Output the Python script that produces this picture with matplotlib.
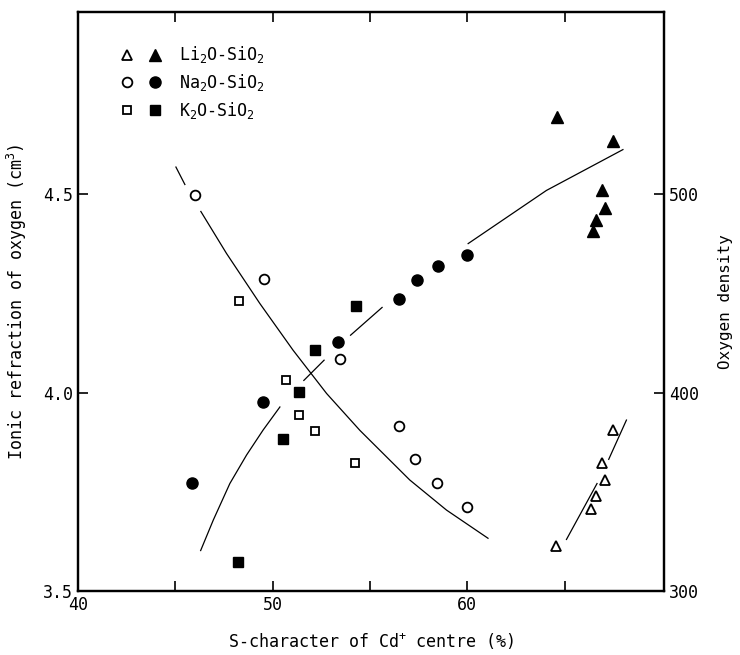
import numpy as np
import matplotlib
matplotlib.use("Agg")
import matplotlib.pyplot as plt
from matplotlib.legend_handler import HandlerTuple

plt.rcParams['font.family'] = ['DejaVu Sans Mono', 'DejaVu Sans']
plt.rcParams['mathtext.fontset'] = 'custom'
plt.rcParams['mathtext.rm'] = 'DejaVu Sans Mono'

# ---- Data: filled symbols -> ionic refraction of oxygen (cm^3), left axis
li_x_f = [64.58, 67.50, 66.94, 67.06, 66.60, 66.43]
li_y_f = [4.696, 4.634, 4.510, 4.467, 4.435, 4.407]
na_x_f = [59.98, 58.51, 57.42, 56.48, 53.35, 49.50, 45.86]
na_y_f = [4.347, 4.319, 4.284, 4.236, 4.129, 3.977, 3.773]
k_x_f = [54.29, 52.19, 51.35, 50.53, 48.22]
k_y_f = [4.219, 4.108, 4.002, 3.884, 3.572]

# ---- Data: open symbols -> oxygen density, right axis
li_x_o = [64.57, 66.37, 66.59, 67.05, 66.92, 67.48]
li_y_o = [322.8, 341.6, 348.0, 356.0, 364.4, 381.4]
na_x_o = [46.00, 49.56, 53.44, 56.51, 57.33, 58.45, 59.98]
na_y_o = [499.8, 457.2, 417.0, 383.0, 366.8, 354.6, 342.4]
k_x_o = [48.26, 50.67, 51.35, 52.19, 54.24]
k_y_o = [446.2, 406.6, 388.6, 380.6, 364.4]

# ---- Curves (NaN = gap in the drawn line)
rise_x = [46.30, 46.95, 47.80, 48.66, 49.51, 50.37, np.nan, 51.60, 52.64, np.nan,
          54.00, 55.62, np.nan, 60.04, 64.06, 67.99]
rise_y = [3.602, 3.679, 3.771, 3.843, 3.906, 3.964, np.nan, 4.031, 4.082, np.nan,
          4.145, 4.215, np.nan, 4.376, 4.510, 4.613]
fall_x = [45.03, 45.49, np.nan, 46.31, 47.63, 49.34, 51.05, 52.77, 54.48, 57.04, 58.93, 61.06]
fall_y = [513.8, 505.0, np.nan, 491.4, 470.2, 445.0, 421.4, 399.6, 381.0, 356.0, 340.8, 326.6]
tri_x = [65.09, 66.66, np.nan, 67.26, 68.17]
tri_y = [326.0, 354.2, np.nan, 366.4, 386.2]

x_ticks = [40, 50, 60]
x_minor = [45, 55, 65]
yl_ticks = [3.5, 4.0, 4.5]
yr_ticks = [300, 400, 500]

fig = plt.figure(figsize=(7.4, 6.55), dpi=100)
ax = fig.add_axes([0.1054, 0.0977, 0.7919, 0.884])
ax2 = ax.twinx()

ax.set_xlim(40, 70.1)
ax.set_ylim(3.5, 4.96)
ax2.set_ylim(300, 592)

lw = 0.9
ax.plot(rise_x, rise_y, color='black', lw=lw)
ax2.plot(fall_x, fall_y, color='black', lw=lw)
ax2.plot(tri_x, tri_y, color='black', lw=lw)

ms = 7.5
h1f, = ax.plot(li_x_f, li_y_f, '^', color='black', ms=ms + 0.5, ls='none')
h2f, = ax.plot(na_x_f, na_y_f, 'o', color='black', ms=ms + 0.5, ls='none')
h3f, = ax.plot(k_x_f, k_y_f, 's', color='black', ms=ms - 0.5, ls='none')
h1o, = ax2.plot(li_x_o, li_y_o, '^', mfc='white', mec='black', mew=1.3, ms=ms - 0.5, ls='none')
h2o, = ax2.plot(na_x_o, na_y_o, 'o', mfc='white', mec='black', mew=1.3, ms=ms - 0.5, ls='none')
h3o, = ax2.plot(k_x_o, k_y_o, 's', mfc='white', mec='black', mew=1.3, ms=ms - 1.5, ls='none')

ax.set_xticks(x_ticks)
ax.set_xticks(x_minor, minor=True)
ax.set_yticks(yl_ticks)
ax.set_yticklabels(['3.5', '4.0', '4.5'])
ax2.set_yticks(yr_ticks)
ax.tick_params(axis='both', which='both', direction='in', length=7, width=1.2,
               top=True, labelsize=12)
ax.tick_params(axis='y', right=False)
ax2.tick_params(axis='y', direction='in', length=7, width=1.2, labelsize=12)
for a in (ax, ax2):
    for s in a.spines.values():
        s.set_linewidth(1.6)

ax.set_xlabel('S-character of Cd$^{+}$ centre (%)', fontsize=12, labelpad=12)
ax.set_ylabel('Ionic refraction of oxygen (cm$^{3}$)', fontsize=12, labelpad=10)
ax2.set_ylabel('Oxygen density', fontsize=11.5, rotation=90, labelpad=14)

leg = ax.legend([(h1o, h1f), (h2o, h2f), (h3o, h3f)],
                ['Li$_2$O-SiO$_2$', 'Na$_2$O-SiO$_2$', 'K$_2$O-SiO$_2$'],
                handler_map={tuple: HandlerTuple(ndivide=None, pad=1.0)},
                loc='upper left', bbox_to_anchor=(0.048, 0.97), frameon=False,
                fontsize=12, handlelength=2.4, handletextpad=1.1, labelspacing=0.4)

fig.savefig('out.png', dpi=100)
